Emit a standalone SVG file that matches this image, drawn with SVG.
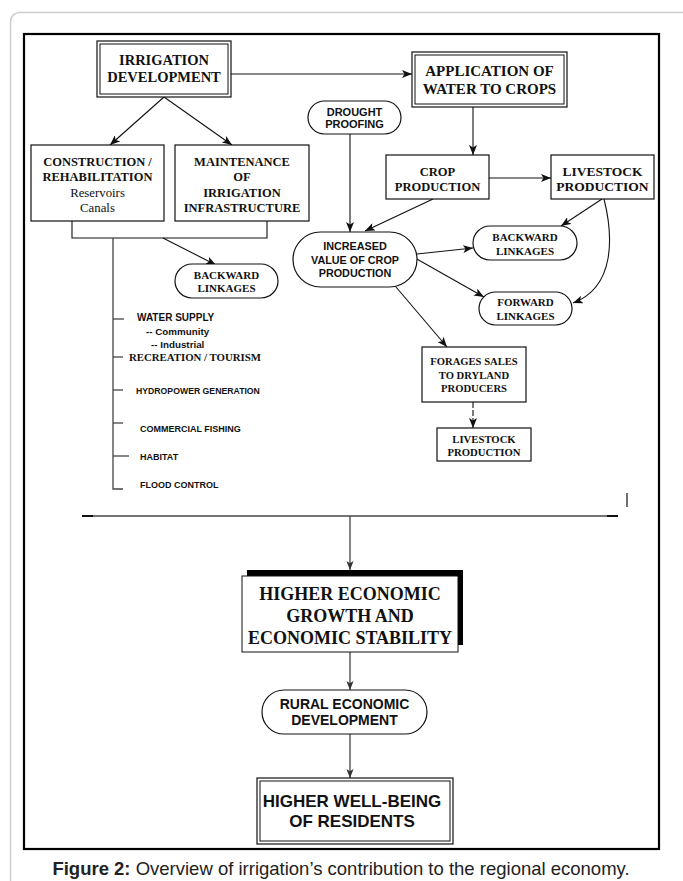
<svg xmlns="http://www.w3.org/2000/svg" width="683" height="881" viewBox="0 0 683 881">
<defs>
<marker id="ah" markerUnits="userSpaceOnUse" markerWidth="10" markerHeight="8" viewBox="0 0 10 8" refX="10" refY="4" orient="auto">
<path d="M0,0 L10,4 L0,8 L2.5,4 z" fill="#111"/>
</marker>
<marker id="ahg" markerUnits="userSpaceOnUse" markerWidth="9" markerHeight="8" viewBox="0 0 10 8" refX="10" refY="4" orient="auto">
<path d="M0,0 L10,4 L0,8 L2.5,4 z" fill="#333"/>
</marker>
</defs>
<style>
.box{fill:#fff;stroke:#111;stroke-width:1.2}
.thin{fill:none;stroke:#111;stroke-width:1}
.tb{font-family:"Liberation Serif","Times New Roman",serif;font-weight:bold;fill:#111;text-anchor:middle}
.tr{font-family:"Liberation Serif","Times New Roman",serif;fill:#111;text-anchor:middle}
.ab{font-family:"Liberation Sans",Arial,sans-serif;font-weight:bold;fill:#111;text-anchor:middle}
.al{font-family:"Liberation Sans",Arial,sans-serif;font-weight:bold;fill:#111}
.tl{font-family:"Liberation Serif","Times New Roman",serif;font-weight:bold;fill:#111}
.con{fill:none;stroke:#111;stroke-width:1.1}
.cong{fill:none;stroke:#444;stroke-width:1.3}
</style>
<rect x="10.5" y="12.5" width="680" height="900" rx="9" fill="#fff" stroke="#cdcdcd" stroke-width="1.5"/>
<rect x="24" y="34" width="635" height="815" fill="none" stroke="#000" stroke-width="2.2"/>

<g id="connectors">
<line class="con" x1="231" y1="74" x2="412" y2="74" marker-end="url(#ah)"/>
<line class="con" x1="164" y1="97" x2="110" y2="145" marker-end="url(#ah)"/>
<line class="con" x1="164" y1="97" x2="232" y2="145" marker-end="url(#ah)"/>
<path class="con" d="M72,221 V238 H267 V221"/>
<line class="con" x1="163" y1="238" x2="216" y2="265" marker-end="url(#ah)"/>
<line class="con" x1="473" y1="107" x2="473" y2="155" marker-end="url(#ah)"/>
<line class="con" x1="350" y1="134" x2="350" y2="232" marker-end="url(#ah)"/>
<line class="con" x1="489" y1="178" x2="551" y2="178" marker-end="url(#ah)"/>
<line class="con" x1="433" y1="199" x2="365" y2="231" marker-end="url(#ah)"/>
<line class="con" x1="602" y1="199" x2="561" y2="226" marker-end="url(#ah)"/>
<path class="con" d="M604,199 C613,235 616,287 573,303" marker-end="url(#ah)"/>
<line class="con" x1="417" y1="254" x2="473" y2="248" marker-end="url(#ah)"/>
<line class="con" x1="415" y1="258" x2="484" y2="297" marker-end="url(#ah)"/>
<line class="con" x1="396" y1="287" x2="447" y2="347" marker-end="url(#ah)"/>
<line class="con" x1="473" y1="402" x2="473" y2="428" stroke-dasharray="6,2" marker-end="url(#ah)"/>
<line class="cong" x1="82" y1="516" x2="618" y2="516"/>
<line x1="82" y1="516" x2="93" y2="516" stroke="#111" stroke-width="2"/>
<line x1="607" y1="516" x2="618" y2="516" stroke="#111" stroke-width="2"/>
<line x1="627" y1="493" x2="627" y2="507" stroke="#222" stroke-width="1.3"/>
<line class="cong" x1="350" y1="516" x2="350" y2="570" marker-end="url(#ahg)"/>
<line class="cong" x1="350" y1="652" x2="350" y2="690" marker-end="url(#ahg)"/>
<line class="cong" x1="350" y1="734" x2="350" y2="778" marker-end="url(#ahg)"/>
</g>

<g id="n-irrigation">
<rect class="box" x="97" y="41" width="134" height="56"/>
<rect class="thin" x="100" y="44" width="128" height="50"/>
<text class="tb" font-size="14.5" x="164" y="65">IRRIGATION</text>
<text class="tb" font-size="14.5" x="164" y="82">DEVELOPMENT</text>
</g>

<g id="n-application">
<rect class="box" x="412" y="52" width="155" height="55"/>
<rect class="thin" x="415" y="55" width="149" height="49"/>
<text class="tb" font-size="15" x="489.5" y="76">APPLICATION OF</text>
<text class="tb" font-size="15" x="489.5" y="94">WATER TO CROPS</text>
</g>

<g id="n-construction">
<rect class="box" x="31" y="145" width="133" height="76"/>
<text class="tb" font-size="12.5" x="97.5" y="165.5">CONSTRUCTION /</text>
<text class="tb" font-size="12.5" x="97.5" y="180.5">REHABILITATION</text>
<text class="tr" font-size="12.8" x="97.5" y="196.5">Reservoirs</text>
<text class="tr" font-size="12.8" x="97.5" y="211.5">Canals</text>
</g>

<g id="n-maintenance">
<rect class="box" x="175" y="145" width="134" height="76"/>
<text class="tb" font-size="12.5" x="242" y="165.5">MAINTENANCE</text>
<text class="tb" font-size="12.5" x="242" y="180.5">OF</text>
<text class="tb" font-size="12.5" x="242" y="196.5">IRRIGATION</text>
<text class="tb" font-size="12.5" x="242" y="211.5">INFRASTRUCTURE</text>
</g>

<g id="n-backward-left">
<rect class="box" x="175" y="264" width="103" height="34" rx="17"/>
<text class="tb" font-size="11" x="226.5" y="279">BACKWARD</text>
<text class="tb" font-size="11" x="226.5" y="292">LINKAGES</text>
</g>

<g id="n-uses">
<path class="cong" d="M113,238 V489 H123"/>
<line class="cong" x1="113" y1="319" x2="124" y2="319"/>
<line class="cong" x1="113" y1="357" x2="123" y2="357"/>
<line class="cong" x1="113" y1="390" x2="123" y2="390"/>
<line class="cong" x1="113" y1="423" x2="123" y2="423"/>
<line class="cong" x1="113" y1="456" x2="129" y2="456"/>
<text class="al" font-size="10" x="137" y="320.5">WATER SUPPLY</text>
<text class="al" font-size="9.8" x="146" y="334.5">-- Community</text>
<text class="al" font-size="9.8" x="151" y="347.5">-- Industrial</text>
<text class="tl" font-size="10.8" x="129" y="361">RECREATION / TOURISM</text>
<text class="al" font-size="8.7" x="136" y="394">HYDROPOWER GENERATION</text>
<text class="al" font-size="9" x="140" y="431.5">COMMERCIAL FISHING</text>
<text class="al" font-size="9" x="140" y="459.5">HABITAT</text>
<text class="al" font-size="9" x="140" y="487.5">FLOOD CONTROL</text>
</g>

<g id="n-drought">
<rect class="box" x="308" y="101" width="93" height="33" rx="16.5"/>
<text class="ab" font-size="11" x="354.5" y="116">DROUGHT</text>
<text class="ab" font-size="11" x="354.5" y="128">PROOFING</text>
</g>

<g id="n-crop">
<rect class="box" x="386" y="155" width="103" height="44"/>
<text class="tb" font-size="12.5" x="437.5" y="175.5">CROP</text>
<text class="tb" font-size="12.5" x="437.5" y="190.5">PRODUCTION</text>
</g>

<g id="n-livestock">
<rect class="box" x="551" y="155" width="103" height="44"/>
<text class="tb" font-size="13.5" x="602.5" y="175.5">LIVESTOCK</text>
<text class="tb" font-size="13.5" x="602.5" y="190.5">PRODUCTION</text>
</g>

<g id="n-increased">
<rect class="box" x="293" y="232" width="124" height="55" rx="27.5"/>
<text class="ab" font-size="10.8" x="355" y="250">INCREASED</text>
<text class="ab" font-size="10.8" x="355" y="264">VALUE OF CROP</text>
<text class="ab" font-size="10.8" x="355" y="277">PRODUCTION</text>
</g>

<g id="n-backward-right">
<rect class="box" x="473" y="226" width="104" height="34" rx="17"/>
<text class="tb" font-size="11" x="525" y="241">BACKWARD</text>
<text class="tb" font-size="11" x="525" y="255">LINKAGES</text>
</g>

<g id="n-forward">
<rect class="box" x="479" y="292" width="93" height="33" rx="16.5"/>
<text class="tb" font-size="11" x="525.5" y="306">FORWARD</text>
<text class="tb" font-size="11" x="525.5" y="320">LINKAGES</text>
</g>

<g id="n-forages">
<rect class="box" x="422" y="347" width="104" height="55"/>
<text class="tb" font-size="10.6" x="474" y="365">FORAGES SALES</text>
<text class="tb" font-size="10.6" x="474" y="379">TO DRYLAND</text>
<text class="tb" font-size="10.6" x="474" y="392">PRODUCERS</text>
</g>

<g id="n-livestock2">
<rect class="box" x="437" y="428" width="94" height="33"/>
<text class="tb" font-size="10.7" x="484" y="443">LIVESTOCK</text>
<text class="tb" font-size="10.7" x="484" y="456">PRODUCTION</text>
</g>

<g id="n-higher-economic">
<rect x="247" y="570" width="216" height="75" fill="#000"/>
<rect x="242" y="576" width="216" height="76" fill="#fff" stroke="#111" stroke-width="1"/>
<text class="tb" font-size="18" x="350" y="599.5">HIGHER ECONOMIC</text>
<text class="tb" font-size="18" x="350" y="622">GROWTH AND</text>
<text class="tb" font-size="18" x="350" y="644">ECONOMIC STABILITY</text>
</g>

<g id="n-rural">
<rect class="box" x="262" y="690" width="165" height="44" rx="22"/>
<text class="ab" font-size="14" x="344.5" y="709">RURAL ECONOMIC</text>
<text class="ab" font-size="14" x="344.5" y="725">DEVELOPMENT</text>
</g>

<g id="n-wellbeing">
<rect class="box" x="257" y="778" width="196" height="66"/>
<rect class="thin" x="260" y="781" width="190" height="60"/>
<text class="ab" font-size="17" x="352" y="807">HIGHER WELL-BEING</text>
<text class="ab" font-size="17" x="352" y="827">OF RESIDENTS</text>
</g>

<text x="341" y="875" font-family="'Liberation Sans',Arial,sans-serif" font-size="18.5" fill="#222" text-anchor="middle"><tspan font-weight="bold">Figure 2:</tspan> Overview of irrigation’s contribution to the regional economy.</text>
</svg>
